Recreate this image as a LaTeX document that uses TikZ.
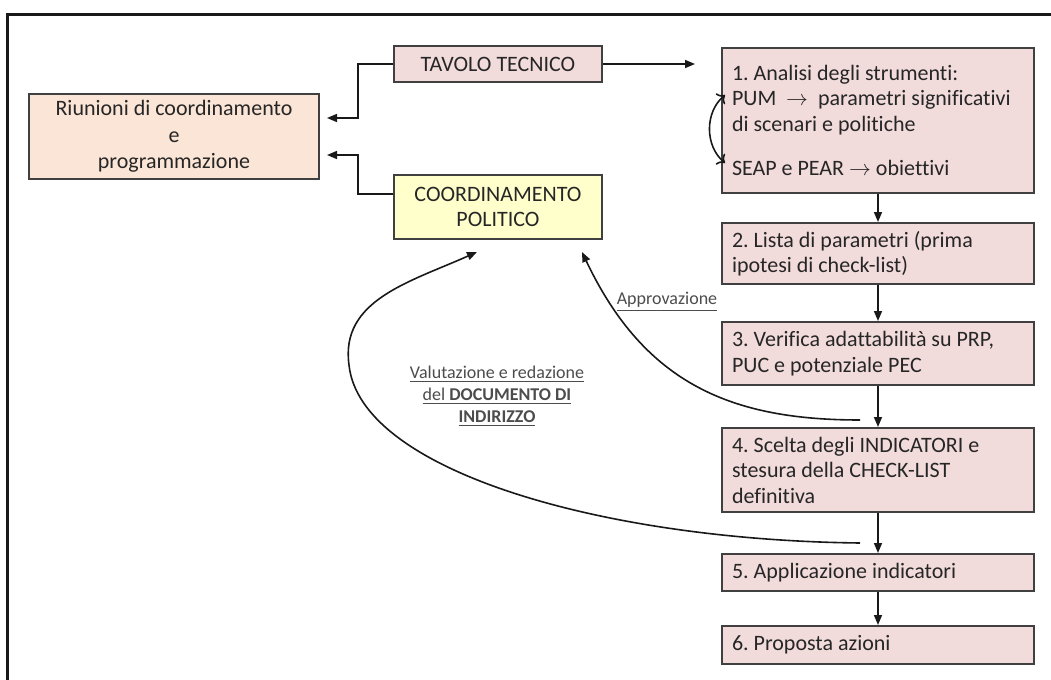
\documentclass[tikz,border=0pt]{standalone}
\usepackage{fontspec}
\setmainfont{Carlito}[Ligatures=NoCommon]
\usetikzlibrary{positioning, arrows.meta}
\definecolor{fasepink}{HTML}{F2DCDB}
\definecolor{riunpeach}{HTML}{FBE5D6}
\definecolor{polyellow}{HTML}{FFFFCC}
\definecolor{testo}{HTML}{262626}
\frenchspacing

\begin{document}
\begin{tikzpicture}[
    x=0.5pt, y=-0.5pt,
    every node/.style={font=\fontsize{11}{12.75}\selectfont, text=testo},
    box/.style={rectangle, draw=black!75, line width=1pt},
    riunbox/.style={box, fill=riunpeach, align=center, minimum width=145pt, minimum height=41.5pt, font=\fontsize{11}{13.25}\selectfont},
    tecbox/.style={box, fill=fasepink, align=center, minimum width=104pt, minimum height=18pt},
    polbox/.style={box, fill=polyellow, align=center, minimum width=104pt, minimum height=32pt, font=\fontsize{11}{12.5}\selectfont},
    fasebox/.style={box, fill=fasepink, align=flush left, text width=146pt, inner xsep=5pt, inner ysep=2pt},
    nota/.style={font=\fontsize{9}{11}\selectfont, text=black!70, align=center},
    conn/.style={-{Triangle[length=5pt, width=4pt]}, thick, draw=black!90},
]
    \useasboundingbox (0,0) rectangle (1051,680);

    % Frame
    \draw[line width=1.5pt, black!90] (7,680) |- (1051,14);

    % Nodes
    \node[riunbox] (riun) at (174,136.5) {Riunioni di coordinamento\\e\\programmazione};
    \node[tecbox] (tecnico) at (498,64) {TAVOLO TECNICO};
    \node[polbox] (politico) at (498,207) {COORDINAMENTO\\POLITICO};

    \node[fasebox, anchor=north west, minimum height=72.5pt] (fase1) at (721,47)
        {1. Analisi degli strumenti:\\
         PUM~~$\rightarrow$~~parametri significativi\\
         di scenari e politiche\\[9.5pt]
         SEAP e PEAR $\rightarrow$ obiettivi};
    \node[fasebox, minimum height=30.5pt] (fase2) [below=14pt of fase1]
        {2. Lista di parametri (prima\\ipotesi di check-list)};
    \node[fasebox, minimum height=31.5pt] (fase3) [below=18pt of fase2]
        {3. Verifica adattabilità su PRP,\\PUC e potenziale PEC};
    \node[fasebox, minimum height=42pt] (fase4) [below=20.5pt of fase3]
        {4. Scelta degli INDICATORI e\\stesura della CHECK-LIST\\definitiva};
    \node[fasebox, minimum height=18.5pt] (fase5) [below=20pt of fase4]
        {5. Applicazione indicatori};
    \node[fasebox, minimum height=19pt] (fase6) [below=16.5pt of fase5]
        {6. Proposta azioni};

    \node[nota] (approv) at (667,302) {\underline{Approvazione}};
    \node[nota] (valut) at (497,396)
        {\underline{Valutazione e redazione}\\
         \underline{del \textbf{DOCUMENTO DI}}\\
         \underline{\textbf{INDIRIZZO}}};

    % Coordinates
    \coordinate (pum) at ([shift={(2pt,-24pt)}]fase1.north west);
    \coordinate (seap) at ([shift={(2pt,-58pt)}]fase1.north west);
    \coordinate (apprStart) at ([shift={(-9pt,3.5pt)}]fase4.north);
    \coordinate (apprEnd) at ([shift={(-10.5pt,-6pt)}]politico.south east);
    \coordinate (valStart) at ([shift={(-9pt,5pt)}]fase5.north);
    \coordinate (valEnd) at ([shift={(-10.5pt,-6pt)}]politico.south);

    % Lines
    \draw[conn] (tecnico.west) -- ++(-17.5pt,0) |- ([shift={(3.5pt,9.25pt)}]riun.east);
    \draw[conn] ([yshift=6.5pt]politico.west) -- ++(-17.5pt,0) |- ([shift={(3.5pt,-9.25pt)}]riun.east);
    \draw[conn, shorten >=13pt] (tecnico.east) -- (tecnico.east -| fase1.west);

    \draw[<->, thick, black!90] (pum) to[bend right=50] (seap);

    \foreach \a/\b in {fase1/fase2, fase2/fase3, fase3/fase4, fase4/fase5, fase5/fase6}
        \draw[conn] (\a.south) -- (\b.north);

    \draw[conn] (apprStart) .. controls (733,420) and (645,385) .. (apprEnd);
    \draw[conn] (valStart) .. controls (600,540) and (360,470) .. (349,365)
        .. controls (340,300) and (410,282) .. (valEnd);

\end{tikzpicture}
\end{document}
